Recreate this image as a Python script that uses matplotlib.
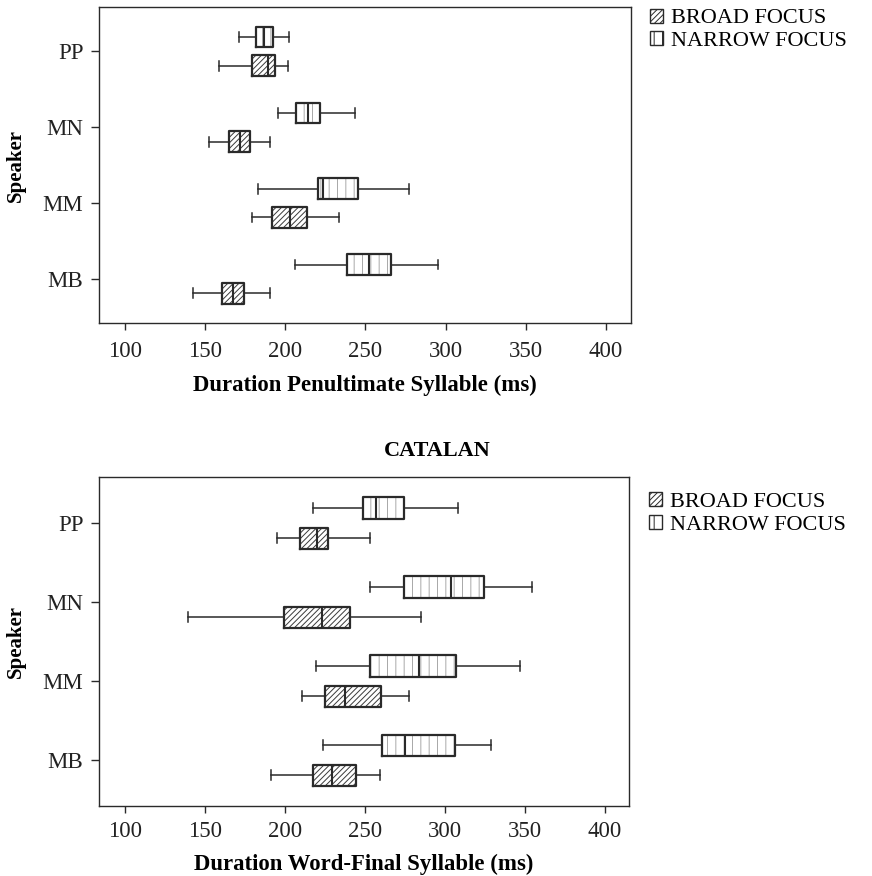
import matplotlib
matplotlib.use("Agg")
import matplotlib.pyplot as plt
from matplotlib.patches import Patch

plt.rcParams['font.family'] = ['Liberation Serif', 'DejaVu Serif']
plt.rcParams['hatch.linewidth'] = 0.7

speakers = ['MB', 'MM', 'MN', 'PP']

# (whisker low, q1, median, q3, whisker high) per speaker, in ms
penult_broad = [
    (142.5, 160.2, 167.3, 174.2, 190.3),
    (179.3, 191.4, 202.7, 213.8, 233.4),
    (152.3, 165.0, 171.5, 178.0, 190.3),
    (158.6, 179.5, 188.9, 193.7, 201.4),
]
penult_narrow = [
    (205.8, 238.6, 252.2, 266.2, 295.3),
    (183.2, 220.2, 223.4, 245.3, 277.3),
    (195.6, 206.4, 214.4, 221.9, 243.2),
    (171.1, 182.0, 186.4, 192.2, 202.1),
]
final_broad = [
    (191.1, 217.5, 229.2, 244.3, 259.8),
    (210.8, 225.0, 237.4, 260.2, 277.6),
    (139.1, 199.5, 223.2, 240.6, 285.1),
    (195.1, 209.6, 220.2, 227.2, 253.0),
]
final_narrow = [
    (224.0, 260.6, 275.0, 306.3, 328.8),
    (219.2, 253.3, 284.1, 307.1, 346.8),
    (253.5, 274.3, 304.1, 324.4, 354.7),
    (217.7, 248.8, 256.8, 274.7, 308.3),
]

xticks = [100, 150, 200, 250, 300, 350, 400]
labels = ['BROAD FOCUS', 'NARROW FOCUS']

INK = '#2a2a2a'
OFFSET = 0.19
WIDTH = 0.27
BROAD_HATCH = '//////'
NARROW_HATCH = '||'


def to_stats(rows):
    return [dict(whislo=a, q1=b, med=c, q3=d, whishi=e, fliers=[]) for a, b, c, d, e in rows]


def draw_group(ax, rows, offset, hatch, hatch_color):
    stats = to_stats(rows)
    pos = [i + offset for i in range(len(rows))]
    # hatched fill first (hatch takes the edge colour), outline on top
    fill = ax.bxp(stats, positions=pos, widths=WIDTH, orientation='horizontal',
                  patch_artist=True, showcaps=False, showfliers=False,
                  boxprops=dict(facecolor='white', edgecolor=hatch_color, linewidth=0),
                  whiskerprops=dict(linewidth=0), medianprops=dict(linewidth=0))
    for b in fill['boxes']:
        b.set_hatch(hatch)
    ax.bxp(stats, positions=pos, widths=WIDTH, orientation='horizontal',
           showfliers=False, capwidths=0.13,
           boxprops=dict(color=INK, linewidth=1.6),
           whiskerprops=dict(color=INK, linewidth=1.1),
           capprops=dict(color=INK, linewidth=1.1),
           medianprops=dict(color=INK, linewidth=1.5))


def panel(ax, broad, narrow, xlabel, xpad, labelpad, legend_y):
    draw_group(ax, broad, -OFFSET, BROAD_HATCH, '#3a3a3a')
    draw_group(ax, narrow, OFFSET, NARROW_HATCH, '#a8a8a8')
    ax.set_ylim(-0.58, 3.58)
    ax.set_xlim(83.5, 415.5)
    ax.set_yticks(range(len(speakers)))
    ax.set_yticklabels(speakers)
    ax.set_xticks(xticks)
    ax.set_xticklabels([str(t) for t in xticks])
    ax.tick_params(axis='both', labelsize=16.5, color=INK, labelcolor='#222222',
                   width=1.0, direction='out')
    ax.tick_params(axis='y', length=6, pad=5)
    ax.tick_params(axis='x', length=5, pad=xpad)
    for s in ax.spines.values():
        s.set_color(INK)
        s.set_linewidth(1.0)
    ax.set_xlabel(xlabel, fontsize=16.4, fontweight='bold', labelpad=labelpad)
    ax.set_ylabel('Speaker', fontsize=15, fontweight='bold', labelpad=12)
    handles = [Patch(facecolor='white', edgecolor=INK, hatch=BROAD_HATCH, linewidth=1.0),
               Patch(facecolor='white', edgecolor=INK, hatch=NARROW_HATCH, linewidth=1.0)]
    ax.legend(handles, labels, loc='upper left', bbox_to_anchor=(1.02, legend_y),
              frameon=False, fontsize=16, handlelength=0.6, handleheight=0.6,
              handletextpad=0.35, labelspacing=0.12, borderaxespad=0)


fig = plt.figure(figsize=(8.72, 8.76), dpi=100)
ax1 = fig.add_axes([0.1132, 0.6313, 0.6099, 0.3604])
ax2 = fig.add_axes([0.1132, 0.0799, 0.6085, 0.3752])

panel(ax1, penult_broad, penult_narrow, 'Duration Penultimate Syllable (ms)', 8, 9, 1.024)
panel(ax2, final_broad, final_narrow, 'Duration Word-Final Syllable (ms)', 6, 8, 0.982)

fig.text(0.502, 0.485, 'CATALAN', ha='center', va='center', fontsize=16, fontweight='bold')

fig.savefig('out.png', dpi=100)
